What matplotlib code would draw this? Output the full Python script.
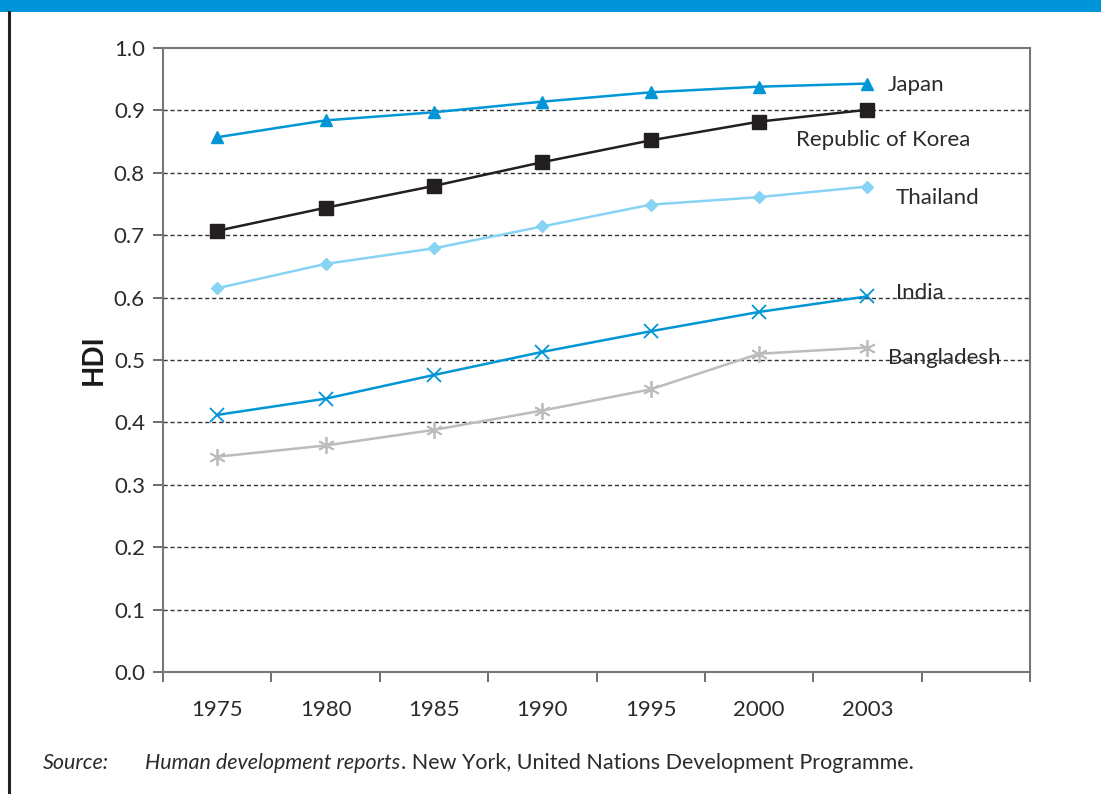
import numpy as np
import matplotlib.pyplot as plt
from matplotlib.patches import Rectangle
from matplotlib.lines import Line2D

plt.rcParams['font.family'] = ['Lato', 'DejaVu Sans']

years = ['1975', '1980', '1985', '1990', '1995', '2000', '2003']
japan = [0.857, 0.884, 0.897, 0.914, 0.929, 0.938, 0.943]
korea = [0.707, 0.744, 0.779, 0.817, 0.852, 0.882, 0.901]
thailand = [0.615, 0.654, 0.679, 0.714, 0.749, 0.761, 0.778]
india = [0.412, 0.438, 0.476, 0.513, 0.546, 0.577, 0.602]
bangladesh = [0.345, 0.363, 0.388, 0.419, 0.453, 0.510, 0.520]
n_slots = 8  # one empty category slot after 2003

txt = '#2b2b2b'
W, H = 1101, 794

fig = plt.figure(figsize=(11.01, 7.94), dpi=100)
ax = fig.add_axes([163 / W, 1 - 672 / H, (1030 - 163) / W, (672 - 48) / H])

x = np.arange(len(years))
series = [
    (japan, 'Japan', '#0096d6', '^', 9, 'full'),
    (korea, 'Republic of Korea', '#231f20', 's', 10, 'full'),
    (thailand, 'Thailand', '#87d3f3', 'D', 6, 'full'),
    (india, 'India', '#0096d6', 'x', 10, 'x'),
    (bangladesh, 'Bangladesh', '#bcbcbf', (6, 2, 0), 12, 'x'),
]
for vals, name, col, mk, ms, kind in series:
    if kind == 'x':
        ax.plot(x, vals, color=col, lw=1.8, marker=mk, markersize=ms,
                markeredgewidth=1.3, zorder=3)
    else:
        ax.plot(x, vals, color=col, lw=1.8, marker=mk, markersize=ms,
                markeredgecolor=col, markerfacecolor=col, zorder=3)

# labels next to last points
lab_fs = 16
ax.text(6.19, japan[-1] - 0.002, 'Japan', fontsize=lab_fs, color=txt, va='center', ha='left')
ax.text(5.34, korea[-1] - 0.049, 'Republic of Korea', fontsize=lab_fs, color=txt, va='center', ha='left')
ax.text(6.26, thailand[-1] - 0.019, 'Thailand', fontsize=lab_fs, color=txt, va='center', ha='left')
ax.text(6.26, india[-1] + 0.006, 'India', fontsize=lab_fs, color=txt, va='center', ha='left')
ax.text(6.19, bangladesh[-1] - 0.017, 'Bangladesh', fontsize=lab_fs, color=txt, va='center', ha='left')

ax.set_xlim(-0.5, n_slots - 0.5)
ax.set_ylim(0, 1.0)
ax.set_yticks(np.arange(0, 1.01, 0.1))
ax.set_yticklabels([f'{v:.1f}' for v in np.arange(0, 1.01, 0.1)])
ax.set_xticks(np.arange(-0.5, n_slots, 1))
ax.set_xticklabels([])
ax.set_xticks(x, minor=True)
ax.set_xticklabels(years, minor=True)
ax.tick_params(axis='x', which='minor', length=0, pad=20, labelsize=16, labelcolor=txt)
ax.tick_params(axis='x', which='major', length=7, width=1.2, color='#555555')
ax.tick_params(axis='y', length=7, width=1.2, color='#555555', labelsize=16, labelcolor=txt, pad=6)

for y in np.arange(0.1, 0.95, 0.1):
    ax.axhline(y, color='#333333', lw=1, ls=(0, (3, 2)), zorder=1)
for s in ax.spines.values():
    s.set_color('#777777')
    s.set_linewidth(1.5)

ax.set_ylabel('HDI', fontsize=20, fontweight='bold', color='#1a1a1a', labelpad=5)

# top band and left rule
fig.add_artist(Rectangle((0, 1 - 12 / H), 1, 12 / H, transform=fig.transFigure,
                         color='#0095d8', lw=0))
fig.add_artist(Line2D([8.5 / W, 8.5 / W], [0, 1 - 12 / H], transform=fig.transFigure,
                      color='#222222', lw=2.2))

# source line, pieces placed one after another
src_y = 1 - 763 / H
src_fs = 15.5
fig.text(43 / W, src_y, 'Source:', fontsize=src_fs, style='italic', color=txt, va='center')
t1 = fig.text(145 / W, src_y, 'Human development reports', fontsize=src_fs,
              style='italic', color=txt, va='center')
fig.canvas.draw()
bb = t1.get_window_extent()
fig.text((bb.x1 + 1) / W, src_y, '. New York, United Nations Development Programme.',
         fontsize=src_fs, color=txt, va='center')

fig.savefig('out.png', dpi=100)
